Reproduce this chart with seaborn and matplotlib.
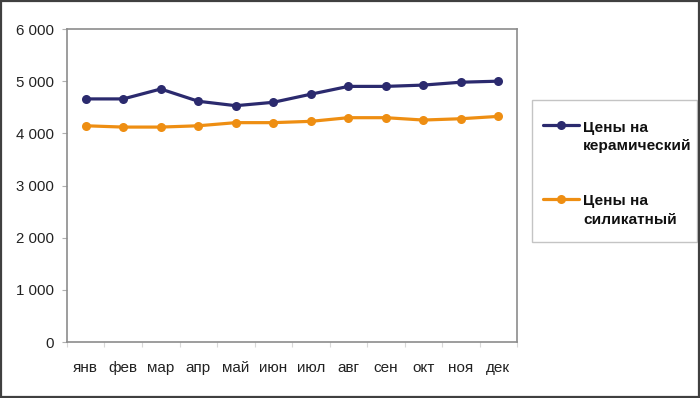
import matplotlib
matplotlib.use("Agg")
import matplotlib.pyplot as plt
import matplotlib.ticker as mticker
from matplotlib.legend_handler import HandlerLine2D
from matplotlib.patches import Rectangle
import pandas as pd
import seaborn as sns

months = ["янв", "фев", "мар", "апр", "май", "июн",
          "июл", "авг", "сен", "окт", "ноя", "дек"]
ceramic = [4660, 4660, 4850, 4615, 4530, 4595,
           4750, 4900, 4900, 4925, 4980, 5000]
silicate = [4145, 4120, 4120, 4145, 4205, 4205,
            4230, 4300, 4300, 4255, 4280, 4325]
series_names = ["Цены на\nкерамический", "Цены на\nсиликатный"]
colors = ["#2B2A6E", "#EE8E12"]

df = pd.concat([
    pd.DataFrame({"month": months, "value": ceramic, "series": series_names[0]}),
    pd.DataFrame({"month": months, "value": silicate, "series": series_names[1]}),
])


class FirstLineHandler(HandlerLine2D):
    # put the legend line level with the first line of a two-line label
    def create_artists(self, legend, orig_handle, xdescent, ydescent,
                       width, height, fontsize, trans):
        shift = 0.77 * fontsize
        return super().create_artists(legend, orig_handle, xdescent,
                                      ydescent - 2 * shift, width, height,
                                      fontsize, trans)


sns.set_style("white")
plt.rcParams["font.family"] = ["Liberation Sans", "DejaVu Sans"]

fig = plt.figure(figsize=(7, 3.98), dpi=100)
ax = fig.add_axes([0.0957, 0.1407, 0.643, 0.7864])

sns.lineplot(
    data=df,
    x="month",
    y="value",
    hue="series",
    palette=colors,
    marker="o",
    markersize=6.5,
    markeredgewidth=0,
    linewidth=2.3,
    sort=False,
    ax=ax,
)

ax.set_xlim(-0.5, len(months) - 0.5)
ax.set_ylim(0, 6000)
ax.set_xlabel("")
ax.set_ylabel("")

ax.yaxis.set_major_locator(mticker.MultipleLocator(1000))
ax.yaxis.set_major_formatter(
    mticker.FuncFormatter(lambda v, p: f"{int(v):,}".replace(",", " "))
)
ax.set_xticks(range(len(months)))
ax.set_xticklabels(months)
ax.set_xticks([i - 0.5 for i in range(len(months) + 1)], minor=True)

ax.tick_params(axis="y", which="major", length=3.6, width=0.8, color="#b0b0b0",
               labelsize=10.8, labelcolor="#222222", pad=6, left=True)
ax.tick_params(axis="x", which="major", length=0, labelsize=11,
               labelcolor="#222222", pad=13.5)
ax.tick_params(axis="x", which="minor", length=3.6, width=0.8,
               color="#d8d8d8", bottom=True)

for s in ax.spines.values():
    s.set_visible(True)
    s.set_color("#8c8c8c")
    s.set_linewidth(1.2)

# legend frame drawn separately so the padding can differ per side
fig.patches.append(
    Rectangle((0.7596, 0.3927), 0.2357, 0.356, transform=fig.transFigure,
              facecolor="white", edgecolor="#c4c4c4", linewidth=1.0, zorder=0)
)

handles, labels = ax.get_legend_handles_labels()
ax.get_legend().remove()
leg = fig.legend(
    handles,
    labels,
    loc="upper left",
    bbox_to_anchor=(0.7757, 0.6972),
    prop={"weight": "bold", "size": 11.1},
    frameon=False,
    handlelength=2.34,
    handletextpad=0.26,
    labelspacing=2.67,
    borderpad=0,
    borderaxespad=0,
    handler_map={h: FirstLineHandler() for h in handles},
)
for t in leg.get_texts():
    t.set_color("#111111")
    t.set_linespacing(1.42)

fig.patches.append(
    Rectangle((0.0015, 0.0025), 0.997, 0.995, transform=fig.transFigure,
              fill=False, edgecolor="#404040", linewidth=1.6)
)

fig.savefig("out.png", dpi=100)
plt.close(fig)
